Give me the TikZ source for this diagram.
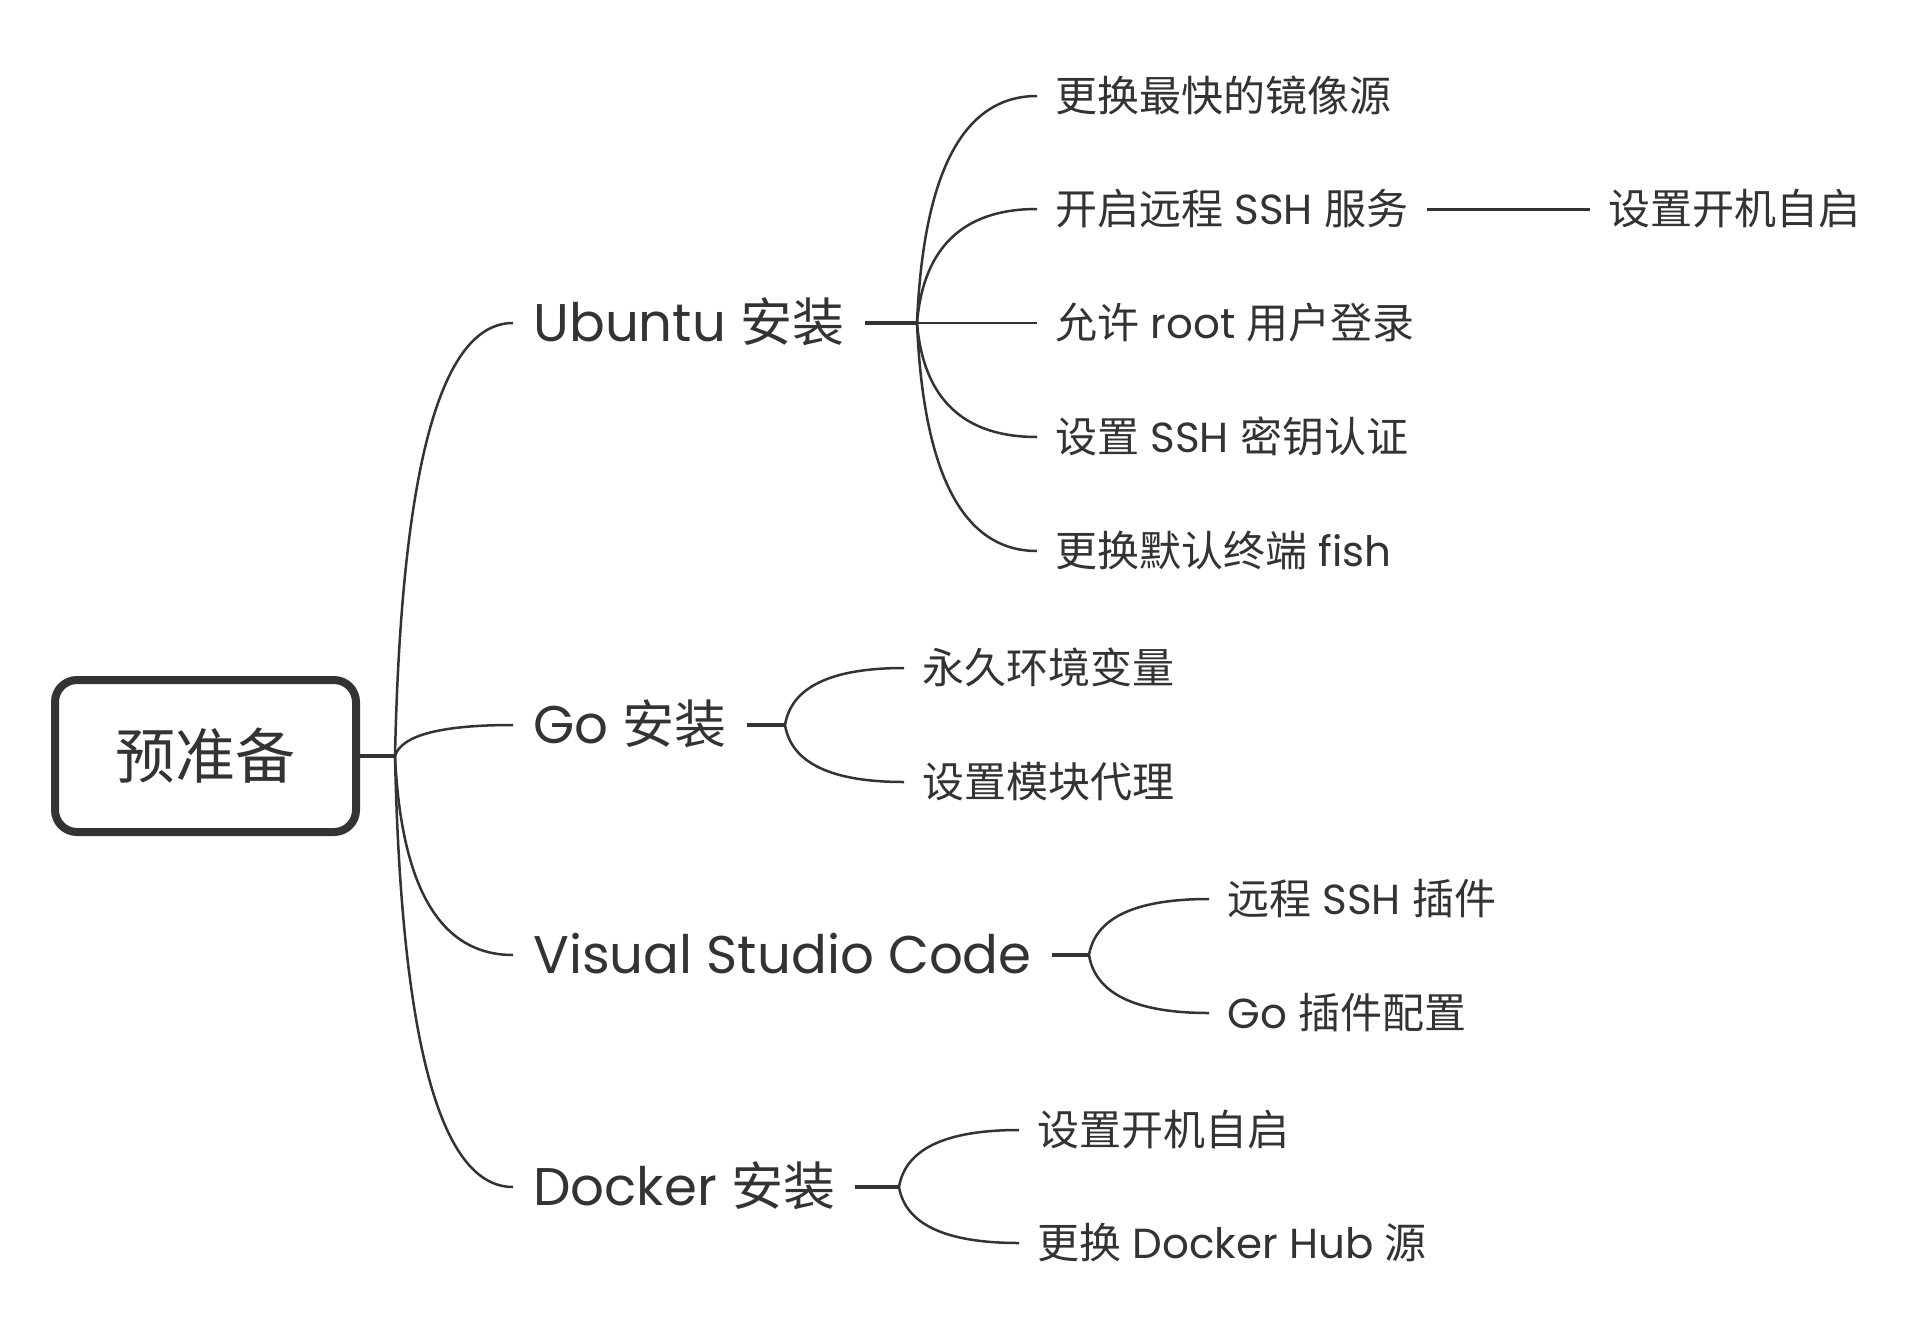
\documentclass[tikz,border=0pt]{standalone}
\usepackage{fontspec}
\setmainfont{Poppins}
\newfontfamily\cjk{Noto Sans CJK SC}
\newcommand\zhbig[1]{{\cjk\fontsize{26pt}{30pt}\selectfont #1}}
\usetikzlibrary{calc}
\definecolor{ink}{HTML}{333333}
\begin{document}
\begin{tikzpicture}[x=0.5pt,y=-0.5pt,
  every node/.style={text=ink},
  rootbox/.style={draw=ink, line width=4pt, rounded corners=11pt, minimum width=150.5pt, minimum height=76pt, inner sep=0pt, font=\fontsize{30pt}{34pt}\selectfont\cjk},
  l1/.style={anchor=west, font=\fontsize{26.5pt}{30pt}\selectfont, inner xsep=10pt, inner ysep=0pt, text height=18.4pt, text depth=0pt},
  l2/.style={anchor=west, font=\fontsize{21pt}{25pt}\selectfont, inner xsep=9pt, inner ysep=0pt, text height=15pt, text depth=0pt},
  curve/.style={draw=ink, line width=1.25pt, to path={let \p1=(\tikztostart), \p2=(\tikztotarget) in .. controls ({\x1+0.0533*(\x2-\x1)},{\y1+0.667*(\y2-\y1)}) and ({\x2-0.613*(\x2-\x1)},\y2) .. (\tikztotarget)}},
  stub/.style={draw=ink, line width=1.75pt},
  stubtwo/.style={draw=ink, line width=1.5pt}
]
\useasboundingbox (0,0) rectangle (1924,1339);
\fill[white] (0,0) rectangle (1924,1339);

% root
\node[rootbox] (root) at (205.5,756) {预准备};
\coordinate (h1) at (395,756);
\draw[stub] (root.east) -- (h1);

% level 1
\node[l1] (ubu) at (513,323) {Ubuntu \zhbig{安装}};
\node[l1] (go) at (513,725) {Go \zhbig{安装}};
\node[l1] (vsc) at (513,955) {Visual Studio Code};
\node[l1] (dock) at (513,1187) {Docker \zhbig{安装}};

\draw[curve] (h1) to (ubu.west);
\draw[curve] (h1) to (go.west);
\draw[curve] (h1) to (vsc.west);
\draw[curve] (h1) to (dock.west);

\coordinate (hu) at (917,323);
\coordinate (hg) at (785,725);
\coordinate (hv) at (1089,955);
\coordinate (hd) at (899,1187);
\draw[stub] (ubu.east) -- (hu);
\draw[stub] (go.east) -- (hg);
\draw[stub] (vsc.east) -- (hv);
\draw[stub] (dock.east) -- (hd);

% Ubuntu children
\node[l2] (u1) at (1037,96) {\cjk 更换最快的镜像源};
\node[l2] (u2) at (1037,209) {{\cjk 开启远程} SSH {\cjk 服务}};
\node[l2] (u3) at (1037,323) {{\cjk 允许} root {\cjk 用户登录}};
\node[l2] (u4) at (1037,437) {{\cjk 设置} SSH {\cjk 密钥认证}};
\node[l2] (u5) at (1037,551) {{\cjk 更换默认终端} fish};
\foreach \k in {u1,u2,u3,u4,u5} \draw[curve] (hu) to (\k.west);

\node[l2] (u2a) at (1590,209) {\cjk 设置开机自启};
\draw[stubtwo] (u2.east) -- (u2a.west);

% Go children
\node[l2] (g1) at (904,668) {\cjk 永久环境变量};
\node[l2] (g2) at (904,782) {\cjk 设置模块代理};
\foreach \k in {g1,g2} \draw[curve] (hg) to (\k.west);

% VSC children
\node[l2] (v1) at (1209,899) {{\cjk 远程} SSH {\cjk 插件}};
\node[l2] (v2) at (1209,1013) {Go {\cjk 插件配置}};
\foreach \k in {v1,v2} \draw[curve] (hv) to (\k.west);

% Docker children
\node[l2] (d1) at (1019,1130) {\cjk 设置开机自启};
\node[l2] (d2) at (1019,1243) {{\cjk 更换} Docker Hub {\cjk 源}};
\foreach \k in {d1,d2} \draw[curve] (hd) to (\k.west);
\end{tikzpicture}
\end{document}
